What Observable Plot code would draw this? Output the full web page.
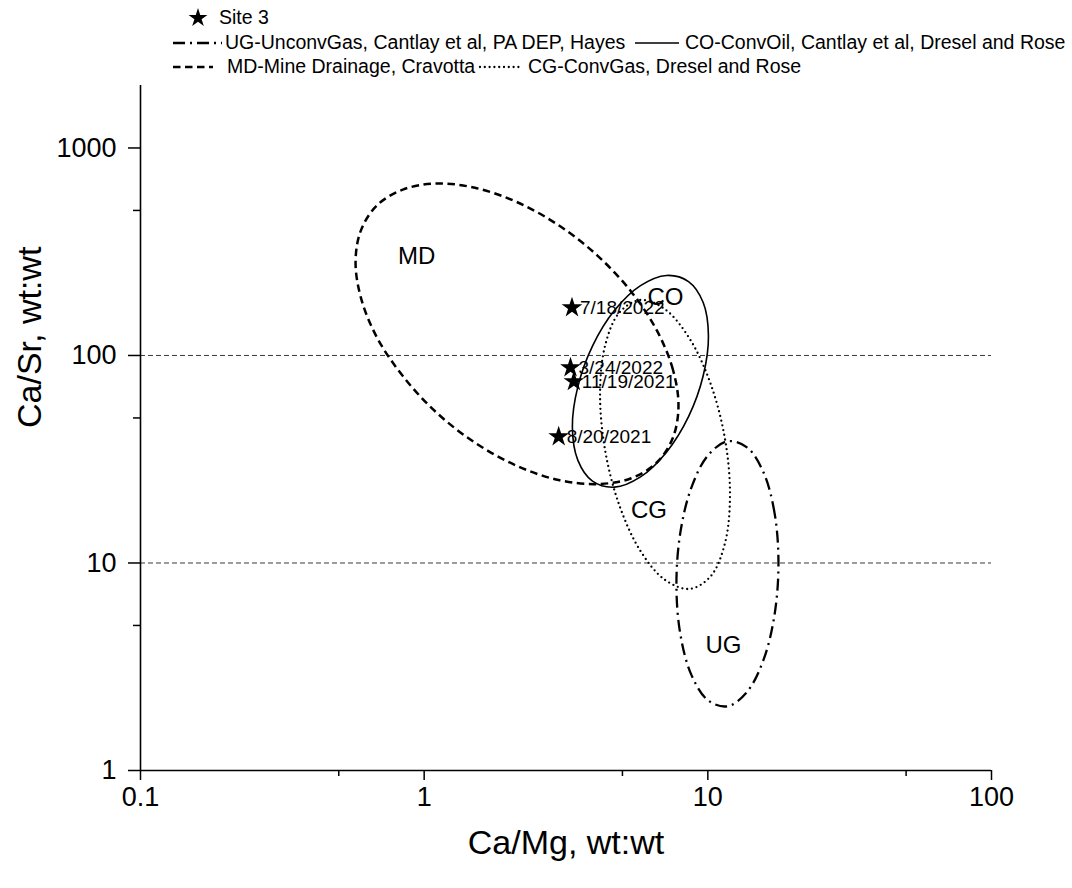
<!DOCTYPE html>
<html><head><meta charset="utf-8">
<script src="https://cdn.jsdelivr.net/npm/d3@7"></script>
<script src="https://cdn.jsdelivr.net/npm/@observablehq/plot@0.6"></script>
<style>
body{margin:0;background:#fff;font-family:"Liberation Sans",Arial,Helvetica,sans-serif;}
#wrap{position:relative;width:1072px;}
#legend{position:relative;height:80px;width:1072px;}
.li{position:absolute;font-size:19.5px;line-height:1;white-space:nowrap;transform:translateY(-50%);color:#000;}
svg.sample{position:absolute;overflow:visible;}
</style></head><body>
<div id="wrap"><div id="legend"></div><div id="chart"></div></div>
<script>
// ---- data ----
const xDomain = [0.1, 100];
const yDomain = [1, 2000];
const xTicks = [0.1, 1, 10, 100];
const xMinorTicks = [0.5, 5, 50];
const yTicks = [1, 10, 100, 1000];
const yMinorTicks = [5, 50, 500];
const gridValues = [10, 100];

// Field outlines (Ca/Mg, Ca/Sr) read along each ellipse
const mdX = [7.88,7.53,6.61,5.37,4.09,2.98,2.12,1.51,1.10,0.841,0.682,0.599,0.573,0.599,0.682,0.841,1.10,1.51,2.12,2.98,4.09,5.37,6.61,7.53];
const mdY = [57.0,85.6,132,203,302,424,549,643,674,630,529,402,283,189,122,79.6,53.4,38.0,29.4,25.1,24.0,25.6,30.5,40.1];
const coX = [10.05,9.63,8.55,7.15,5.79,4.69,3.92,3.48,3.33,3.48,3.92,4.69,5.79,7.15,8.55,9.63];
const coY = [124,180,227,243,217,165,111,70.6,45.3,31.3,24.8,23.2,26.0,34.2,50.7,79.8];
const cgX = [11.97,11.50,10.25,8.64,7.06,5.77,4.86,4.34,4.17,4.34,4.86,5.77,7.06,8.64,10.25,11.50];
const cgY = [21.2,39.4,72.4,120,167,185,160,111,65.3,35.2,19.2,11.5,8.29,7.50,8.65,12.5];
const ugX = [17.74,17.19,15.72,13.74,11.73,10.01,8.75,8.00,7.75,8.00,8.75,10.01,11.73,13.74,15.72,17.19];
const ugY = [10.0,17.4,27.3,36.1,38.6,33.0,23.1,14.0,7.89,4.54,2.89,2.18,2.04,2.39,3.42,5.64];

const regionNames = ["MD", "CO", "CG", "UG"];
const regionLabelX = [0.94, 7.09, 6.20, 11.35];
const regionLabelY = [302, 190, 17.9, 4.0];

const siteDates = ["7/18/2022", "3/24/2022", "11/19/2021", "8/20/2021"];
const siteCaMg = [3.32, 3.28, 3.37, 2.98];
const siteCaSr = [170, 87.4, 74.9, 40.6];

const legendLabels = ["Site 3", "UG-UnconvGas, Cantlay et al, PA DEP, Hayes", "CO-ConvOil, Cantlay et al, Dresel and Rose", "MD-Mine Drainage, Cravotta", "CG-ConvGas, Dresel and Rose"];

const xTitle = "Ca/Mg, wt:wt";
const yTitle = "Ca/Sr, wt:wt";

// ---- styles ----
const lineStyles = {
  UG: {dash: "12,5,2,5", width: 2.3, cap: "butt"},
  CO: {dash: null, width: 1.6, cap: "butt"},
  MD: {dash: "7.5,4.5", width: 2.5, cap: "butt"},
  CG: {dash: "0,4.8", width: 2.3, cap: "round"}
};
const FONT = '"Liberation Sans", Arial, Helvetica, sans-serif';

// ---- legend (HTML above the SVG) ----
const legend = document.getElementById("legend");
function addText(txt, left, cy) {
  const d = document.createElement("div");
  d.className = "li"; d.textContent = txt;
  d.style.left = left + "px"; d.style.top = cy + "px";
  legend.appendChild(d);
}
function addSample(key, x0, x1, cy) {
  const ns = "http://www.w3.org/2000/svg";
  const s = document.createElementNS(ns, "svg");
  s.setAttribute("class", "sample");
  s.setAttribute("width", x1 - x0); s.setAttribute("height", 10);
  s.style.left = x0 + "px"; s.style.top = (cy - 5) + "px";
  const l = document.createElementNS(ns, "line");
  l.setAttribute("x1", 0); l.setAttribute("x2", x1 - x0);
  l.setAttribute("y1", 5); l.setAttribute("y2", 5);
  const st = lineStyles[key];
  l.setAttribute("stroke", "#000");
  l.setAttribute("stroke-width", st.width);
  l.setAttribute("stroke-linecap", st.cap);
  if (st.dash) l.setAttribute("stroke-dasharray", st.dash);
  s.appendChild(l);
  legend.appendChild(s);
}
function addStar(cx, cy) {
  const ns = "http://www.w3.org/2000/svg";
  const s = document.createElementNS(ns, "svg");
  s.setAttribute("class", "sample");
  s.setAttribute("width", 20); s.setAttribute("height", 20);
  s.style.left = (cx - 10) + "px"; s.style.top = (cy - 10) + "px";
  const p = document.createElementNS(ns, "path");
  p.setAttribute("d", d3.symbol(d3.symbolStar, 110)());
  p.setAttribute("transform", "translate(10,10)");
  p.setAttribute("fill", "#000");
  s.appendChild(p);
  legend.appendChild(s);
}
addStar(198, 18); addText(legendLabels[0], 219, 18);
addSample("UG", 173, 222, 43); addText(legendLabels[1], 225, 43);
addSample("CO", 635, 679, 43); addText(legendLabels[2], 685, 43);
addSample("MD", 173, 213, 67); addText(legendLabels[3], 227, 67);
addSample("CG", 480, 523, 67); addText(legendLabels[4], 528, 67);

// ---- chart ----
const outlines = [
  {key: "MD", xs: mdX, ys: mdY},
  {key: "CO", xs: coX, ys: coY},
  {key: "CG", xs: cgX, ys: cgY},
  {key: "UG", xs: ugX, ys: ugY}
];
const marks = [];
marks.push(Plot.ruleY(gridValues, {stroke: "#222", strokeWidth: 0.9, strokeDasharray: "5,3"}));
for (const o of outlines) {
  const st = lineStyles[o.key];
  const pts = o.xs.map((x, i) => ({x, y: o.ys[i]}));
  marks.push(Plot.line(pts, {
    x: "x", y: "y", curve: "catmull-rom-closed",
    stroke: "#000", strokeWidth: st.width,
    strokeDasharray: st.dash || undefined, strokeLinecap: st.cap
  }));
}
const regions = regionNames.map((n, i) => ({n, x: regionLabelX[i], y: regionLabelY[i]}));
marks.push(Plot.text(regions, {x: "x", y: "y", text: "n", fontSize: 24, fill: "#000"}));

const sites = siteDates.map((d, i) => ({d, x: siteCaMg[i], y: siteCaSr[i]}));
marks.push(Plot.dot(sites, {x: "x", y: "y", symbol: "star", r: 6.5, fill: "#000", stroke: null}));
marks.push(Plot.text(sites, {x: "x", y: "y", text: "d", textAnchor: "start", dx: 8, fontSize: 19, fill: "#000"}));

// axis lines
marks.push(Plot.ruleX([xDomain[0]], {stroke: "#000", strokeWidth: 1.6}));
marks.push(Plot.ruleY([yDomain[0]], {stroke: "#000", strokeWidth: 1.6}));
// axes
const fmt = d3.format("~g");
marks.push(Plot.axisX(xTicks, {anchor: "bottom", tickSize: 10, tickPadding: 6, fontSize: 27, tickFormat: fmt, label: null, strokeWidth: 1.5}));
marks.push(Plot.axisX(xMinorTicks, {anchor: "bottom", tickSize: 6, tickFormat: () => "", label: null, strokeWidth: 1.5}));
marks.push(Plot.axisY(yTicks, {anchor: "left", tickSize: 12, tickPadding: 12, fontSize: 27, tickFormat: fmt, label: null, strokeWidth: 1.5}));
marks.push(Plot.axisY(yMinorTicks, {anchor: "left", tickSize: 7, tickFormat: () => "", label: null, strokeWidth: 1.5}));
// axis titles
marks.push(Plot.text([xTitle], {text: d => d, frameAnchor: "bottom", dy: 83, fontSize: 34, fill: "#000"}));
marks.push(Plot.text([yTitle], {text: d => d, frameAnchor: "left", dx: -110, rotate: -90, fontSize: 34, fill: "#000"}));

const chart = Plot.plot({
  width: 1072, height: 808,
  marginTop: 5, marginBottom: 118, marginLeft: 140, marginRight: 81,
  x: {type: "log", domain: xDomain},
  y: {type: "log", domain: yDomain},
  style: {fontFamily: FONT, background: "#fff", color: "#000", overflow: "visible"},
  marks
});
document.getElementById("chart").appendChild(chart);
</script>
</body></html>
